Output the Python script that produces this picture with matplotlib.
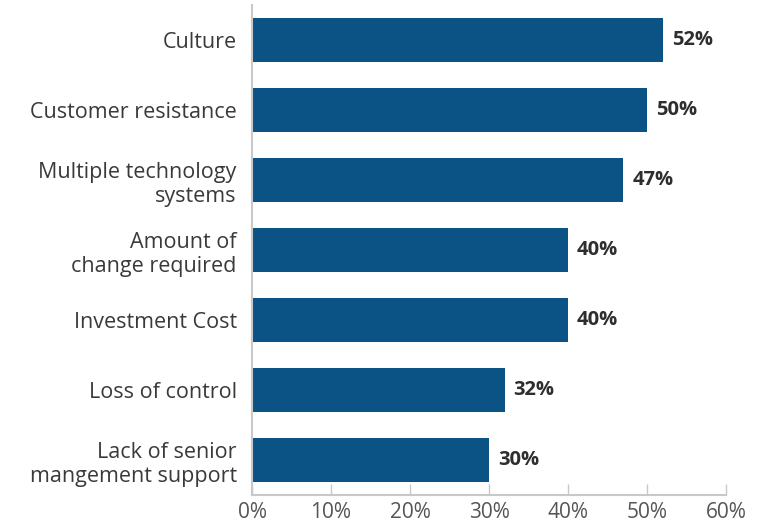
import matplotlib
matplotlib.use("Agg")
import matplotlib.pyplot as plt
from matplotlib.ticker import FuncFormatter

categories = [
    "Culture",
    "Customer resistance",
    "Multiple technology\nsystems",
    "Amount of\nchange required",
    "Investment Cost",
    "Loss of control",
    "Lack of senior\nmangement support",
]
values = [52, 50, 47, 40, 40, 32, 30]
xticks = [0, 10, 20, 30, 40, 50, 60]

plt.rcParams["font.family"] = ["Open Sans", "DejaVu Sans"]

fig = plt.figure(figsize=(7.66, 5.27), dpi=100)
ax = fig.add_axes([0.329, 0.0607, 0.619, 0.9298])

n = len(categories)
ypos = list(range(n - 1, -1, -1))
bar_color = "#0b5384"
ax.barh(ypos, values, height=0.63, color=bar_color, edgecolor="none", zorder=2)

for y, v in zip(ypos, values):
    ax.text(v + 1.1, y, f"{v}%", va="center", ha="left", fontsize=14.5,
            fontweight="bold", color="#2e2e2e")

ax.set_yticks(ypos)
ax.set_yticklabels(categories, fontsize=15.5, color="#3a3a3a", linespacing=1.2)
ax.set_ylim(-0.5, n - 0.5)
ax.set_xlim(0, 60)
ax.set_xticks(xticks)
ax.xaxis.set_major_formatter(FuncFormatter(lambda x, _: f"{x:.0f}%"))

for lbl in ax.get_xticklabels():
    lbl.set_fontsize(15)
    lbl.set_color("#555555")

ax.tick_params(axis="y", length=0, pad=11)
ax.tick_params(axis="x", direction="in", length=8, width=1, color="#c8c8c8", pad=5)

for s in ["top", "right"]:
    ax.spines[s].set_visible(False)
for s in ["left", "bottom"]:
    ax.spines[s].set_color("#c8c8c8")
    ax.spines[s].set_linewidth(1.5)

fig.savefig("out.png", dpi=100)
